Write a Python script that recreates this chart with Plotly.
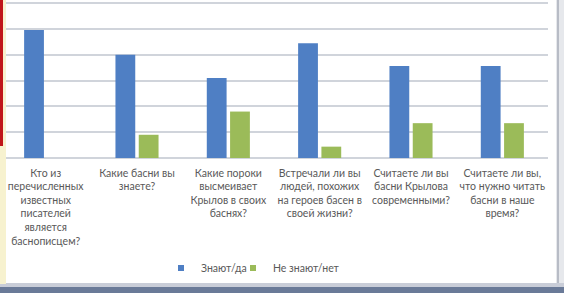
import plotly.graph_objects as go

categories = [
    "Кто из<br>перечисленных<br>известных<br>писателей<br>является<br>баснописцем?",
    "Какие басни вы<br>знаете?",
    "Какие пороки<br>высмеивает<br>Крылов в своих<br>баснях?",
    "Встречали ли вы<br>людей, похожих<br>на героев басен в<br>своей жизни?",
    "Считаете ли вы<br>басни Крылова<br>современными?",
    "Считаете ли вы,<br>что нужно читать<br>басни в наше<br>время?",
]
yes_values = [4.96, 4.0, 3.1, 4.45, 3.57, 3.57]
no_values = [0.0, 0.9, 1.8, 0.44, 1.35, 1.35]
series_names = ["Знают/да", "Не знают/нет"]

BLUE = "#4F7FC4"
GREEN = "#9BBB59"
GRID = "#d0d4db"
TXT = "#595959"
FONT = "Lato, Open Sans, sans-serif"

fig = go.Figure()
fig.add_trace(go.Bar(x=categories, y=yes_values, name=series_names[0],
                     marker=dict(color=BLUE, line=dict(width=0)), showlegend=False))
fig.add_trace(go.Bar(x=categories, y=no_values, name=series_names[1],
                     marker=dict(color=GREEN, line=dict(width=0)), showlegend=False))
# legend entries with small square markers (one legend each, for tight spacing)
for nm, col, lg in zip(series_names, [BLUE, GREEN], ["legend", "legend2"]):
    fig.add_trace(go.Scatter(x=[None], y=[None], mode="markers", name=nm, legend=lg,
                             marker=dict(symbol="square", size=6, color=col)))

H_PLOT = 158.0
def py(p):
    return (H_PLOT - p) / H_PLOT

W_PLOT = 548.0
def px(p):
    return p / W_PLOT

shapes = [
    # right border
    dict(type="rect", xref="paper", yref="paper", x0=px(556), x1=px(566), y0=py(-2), y1=py(295),
         fillcolor="#e6e8ec", line=dict(width=0), layer="above"),
    dict(type="rect", xref="paper", yref="paper", x0=px(557), x1=px(559), y0=py(-2), y1=py(286),
         fillcolor="#b8bcc6", line=dict(width=0), layer="above"),
    # bottom band
    dict(type="rect", xref="paper", yref="paper", x0=px(-2), x1=px(566), y0=py(283), y1=py(287),
         fillcolor="#c9cdd8", line=dict(width=0), layer="above"),
    dict(type="rect", xref="paper", yref="paper", x0=px(-2), x1=px(566), y0=py(287), y1=py(295),
         fillcolor="#6a7a98", line=dict(width=0), layer="above"),
    # left yellow strip
    dict(type="rect", xref="paper", yref="paper", x0=px(-2), x1=px(6), y0=py(-2), y1=py(284),
         fillcolor="#f7f2cf", line=dict(width=0), layer="above"),
    # red strip
    dict(type="rect", xref="paper", yref="paper", x0=px(-2), x1=px(3), y0=py(-2), y1=py(146),
         fillcolor="#c0161b", line=dict(width=0), layer="above"),
]

legend_common = dict(orientation="h", xanchor="left", yanchor="middle", y=py(268),
                     font=dict(family=FONT, size=10.5, color=TXT), itemwidth=30,
                     bgcolor="rgba(0,0,0,0)", borderwidth=0)

fig.update_layout(
    width=564, height=293,
    margin=dict(l=0, r=16, t=0, b=135),
    paper_bgcolor="white", plot_bgcolor="white",
    barmode="group", bargap=0.49, bargroupgap=0.15,
    font=dict(family=FONT, size=10.5, color=TXT),
    xaxis=dict(showgrid=False, showline=False, ticks="", tickangle=0,
               ticklabelstandoff=7,
               tickfont=dict(family=FONT, size=10.5, color=TXT)),
    yaxis=dict(range=[0, H_PLOT / 25.8], dtick=1, showgrid=True, gridcolor=GRID,
               gridwidth=1.5, zeroline=True, zerolinecolor=GRID, zerolinewidth=1.5,
               showticklabels=False),
    legend=dict(x=px(161), **legend_common),
    legend2=dict(x=px(233), **legend_common),
    shapes=shapes,
    showlegend=True,
)

fig.write_html("out.html", config={"displayModeBar": False},
               post_script="document.body.style.margin='0px';")
